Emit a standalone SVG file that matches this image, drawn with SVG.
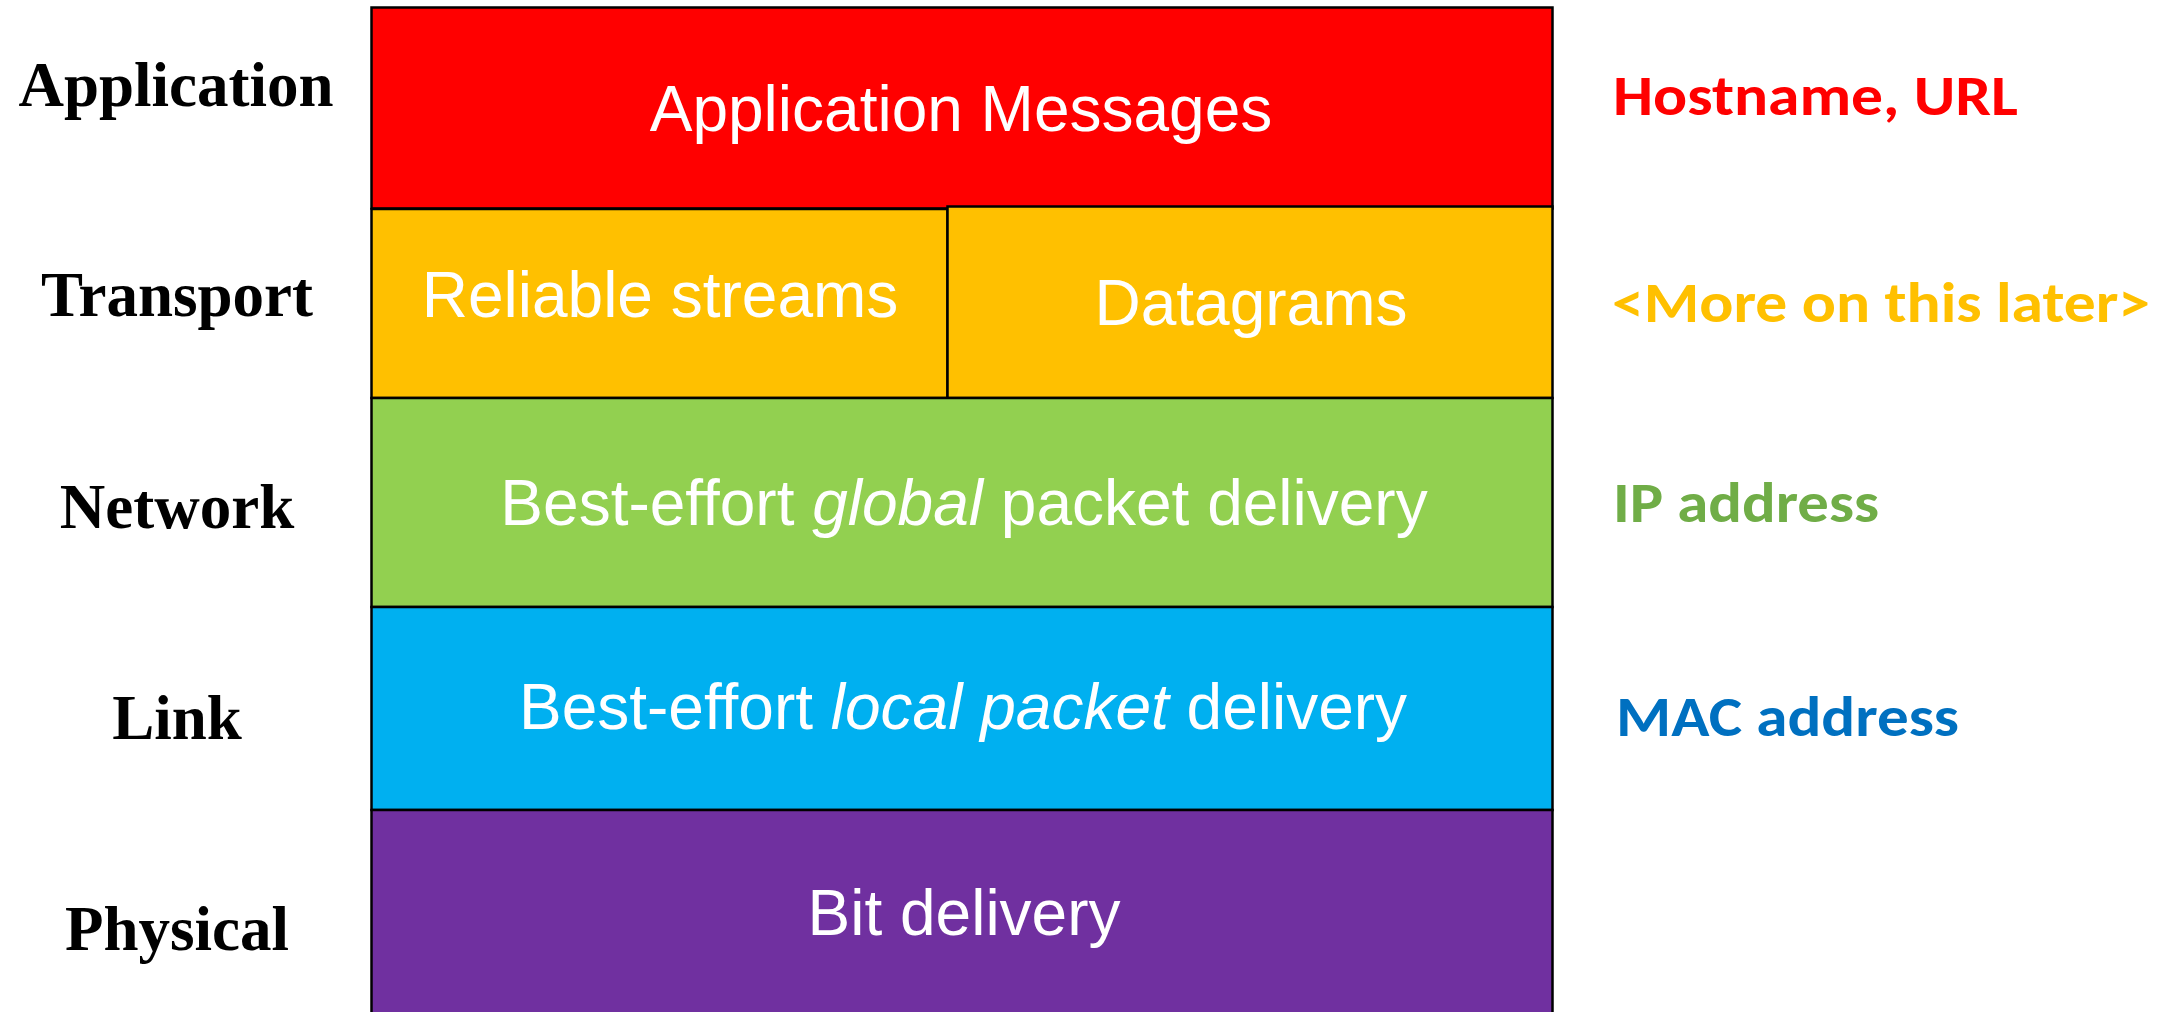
<svg xmlns="http://www.w3.org/2000/svg" width="2181" height="1012" viewBox="0 0 2181 1012">
  <style>
    .layer { stroke: #000000; stroke-width: 2.5; }
    .boxtext { font-family: "Liberation Sans", Arial, sans-serif; font-size: 64px; fill: #FFFFFF; text-anchor: middle; }
    .side { font-family: "Liberation Serif", "Times New Roman", serif; font-weight: bold; font-size: 63px; fill: #000000; text-anchor: middle; }
    .addr { font-family: Carlito, "Open Sans", "Noto Sans", sans-serif; font-weight: bold; font-size: 56px; }
  </style>
  <rect width="2181" height="1012" fill="#FFFFFF"/>

  <g id="application-layer">
    <rect class="layer" x="371.5" y="7.5" width="1181" height="201" fill="#FF0000"/>
    <text class="boxtext" x="961" y="131">Application Messages</text>
  </g>
  <g id="transport-reliable">
    <rect class="layer" x="371.5" y="209" width="576" height="189" fill="#FFC000"/>
    <text class="boxtext" x="660" y="317">Reliable streams</text>
  </g>
  <g id="transport-datagrams">
    <rect class="layer" x="947.5" y="206.5" width="605" height="191.5" fill="#FFC000"/>
    <text class="boxtext" x="1251" y="325">Datagrams</text>
  </g>
  <g id="network-layer">
    <rect class="layer" x="371.5" y="398" width="1181" height="209" fill="#92D050"/>
    <text class="boxtext" x="964" y="525">Best-effort <tspan font-style="italic">global</tspan> packet delivery</text>
  </g>
  <g id="link-layer">
    <rect class="layer" x="371.5" y="607" width="1181" height="203" fill="#00B0F0"/>
    <text class="boxtext" x="963" y="729">Best-effort <tspan font-style="italic">local packet</tspan> delivery</text>
  </g>
  <g id="physical-layer">
    <rect class="layer" x="371.5" y="810" width="1181" height="210" fill="#7030A0"/>
    <text class="boxtext" x="964" y="935">Bit delivery</text>
  </g>

  <g id="layer-names">
    <text class="side" x="176" y="106">Application</text>
    <text class="side" x="177" y="316">Transport</text>
    <text class="side" x="177" y="528">Network</text>
    <text class="side" x="177" y="739">Link</text>
    <text class="side" x="177" y="950">Physical</text>
  </g>

  <g id="addresses">
    <text class="addr" x="1613" y="115" fill="#FF0000" textLength="405" lengthAdjust="spacingAndGlyphs">Hostname, URL</text>
    <text class="addr" x="1612" y="322" fill="#FFC000" textLength="538" lengthAdjust="spacingAndGlyphs">&lt;More on this later&gt;</text>
    <text class="addr" x="1613" y="522" fill="#70AD47" textLength="266" lengthAdjust="spacingAndGlyphs">IP address</text>
    <text class="addr" x="1616" y="736" fill="#0070C0" textLength="343" lengthAdjust="spacingAndGlyphs">MAC address</text>
  </g>

  <g id="connectors"/>
</svg>
